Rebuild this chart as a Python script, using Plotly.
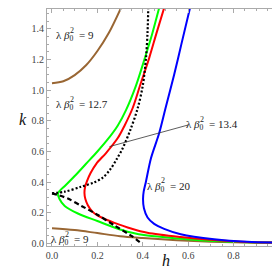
import plotly.graph_objects as go

# ---- data ----
# lambda*beta0^2 = 9 (brown), upper branch
brown_up_h = [0.0, 0.05, 0.10, 0.15, 0.20, 0.25, 0.304]
brown_up_k = [1.045, 1.058, 1.098, 1.162, 1.255, 1.372, 1.536]
# lambda*beta0^2 = 9 (brown), lower branch
brown_lo_h = [0.0, 0.10, 0.20, 0.30, 0.40, 0.50, 0.60, 0.70, 0.80, 0.90, 1.0]
brown_lo_k = [0.100, 0.088, 0.068, 0.048, 0.036, 0.026, 0.018, 0.012, 0.008, 0.006, 0.005]
# lambda*beta0^2 = 12.7 (green)
green_h = [0.472, 0.44, 0.407, 0.37, 0.326, 0.29, 0.246, 0.20, 0.15, 0.10, 0.06, 0.035, 0.026,
           0.033, 0.056, 0.114, 0.20, 0.275, 0.348, 0.42, 0.566, 0.714, 0.86, 1.0]
green_k = [1.536, 1.36, 1.20, 1.03, 0.87, 0.77, 0.68, 0.60, 0.52, 0.44, 0.38, 0.345, 0.327,
           0.29, 0.245, 0.196, 0.147, 0.105, 0.072, 0.052, 0.032, 0.016, 0.008, 0.006]
# lambda*beta0^2 = 13.4 (red)
red_h = [0.494, 0.46, 0.428, 0.39, 0.355, 0.32, 0.289, 0.238, 0.195, 0.17, 0.155, 0.146, 0.143,
         0.147, 0.158, 0.177, 0.20, 0.24, 0.275, 0.348, 0.42, 0.567, 0.714, 0.86, 1.0]
red_k = [1.536, 1.37, 1.209, 1.04, 0.882, 0.77, 0.686, 0.59, 0.52, 0.46, 0.41, 0.37, 0.33,
         0.29, 0.25, 0.21, 0.183, 0.155, 0.135, 0.098, 0.07, 0.042, 0.023, 0.010, 0.006]
# lambda*beta0^2 = 20 (blue)
blue_h = [0.608, 0.57, 0.538, 0.50, 0.472, 0.436, 0.414, 0.404, 0.401, 0.405, 0.421, 0.45,
          0.494, 0.567, 0.714, 0.86, 1.0]
blue_k = [1.536, 1.30, 1.10, 0.882, 0.719, 0.556, 0.405, 0.34, 0.29, 0.23, 0.17, 0.128,
          0.096, 0.061, 0.028, 0.011, 0.006]
# black dotted curve
dot_h = [0.0, 0.056, 0.128, 0.187, 0.224, 0.255, 0.285, 0.311, 0.345, 0.377, 0.40, 0.414, 0.421, 0.424]
dot_k = [0.327, 0.338, 0.37, 0.40, 0.43, 0.48, 0.55, 0.62, 0.74, 0.88, 1.03, 1.21, 1.38, 1.536]
# black dashed curve
dash_h = [0.0, 0.03, 0.07, 0.13, 0.20, 0.275, 0.35, 0.395]
dash_k = [0.327, 0.315, 0.293, 0.245, 0.188, 0.118, 0.05, 0.0]

# labels  (lambda * beta_0^2 = value)
lab_text = ["9", "12.7", "13.4", "20", "9"]
lab_h = [0.01, 0.01, 0.58, 0.41, -0.012]
lab_k = [1.353, 0.90, 0.77, 0.37, 0.022]
# pointer for the 13.4 label
ptr_h = [0.60, 0.253]
ptr_k = [0.773, 0.632]

BROWN = "#996633"
fig = go.Figure()

def add(h, k, color, dash="solid", width=2):
    fig.add_trace(go.Scatter(x=h, y=k, mode="lines",
                             line=dict(color=color, width=width, dash=dash,
                                       shape="spline", smoothing=0.9),
                             showlegend=False, hoverinfo="skip"))

add(brown_up_h, brown_up_k, BROWN)
add(brown_lo_h, brown_lo_k, BROWN)
add(green_h, green_k, "#00ff00")
add(red_h, red_k, "#ff0000")
add(blue_h, blue_k, "#0000ff")
add(dot_h, dot_k, "#000000", dash="2px,2px", width=2.2)
add(dash_h, dash_k, "#000000", dash="5px,3px", width=2.2)

fig.add_trace(go.Scatter(x=ptr_h, y=ptr_k, mode="lines",
                         line=dict(color="#333333", width=0.8),
                         showlegend=False, hoverinfo="skip"))

SERIF = "Liberation Serif"
for t, h, k in zip(lab_text, lab_h, lab_k):
    # main text with subscript 0
    fig.add_annotation(x=h, y=k, xref="x", yref="y", xanchor="left", yanchor="middle",
                       text="λ <i>β</i><sub>0</sub>  = " + t,
                       showarrow=False, font=dict(family=SERIF, size=11, color="#222222"))
    # superscript 2 stacked above the subscript
    fig.add_annotation(x=h, y=k, xref="x", yref="y", xanchor="left", yanchor="middle",
                       text="2", xshift=14, yshift=6,
                       showarrow=False, font=dict(family=SERIF, size=8, color="#222222"))

fig.add_annotation(x=0.5, y=-0.105, xref="paper", yref="paper", text="<i>h</i>",
                   showarrow=False, font=dict(family=SERIF, size=16, color="#111111"))
fig.add_annotation(x=-0.125, y=0.535, xref="paper", yref="paper", text="<i>k</i>",
                   showarrow=False, font=dict(family=SERIF, size=16, color="#111111"))

axis_common = dict(showline=True, linecolor="#aaaaaa", linewidth=1, mirror="allticks",
                   ticks="inside", ticklen=4, tickcolor="#aaaaaa", showgrid=False,
                   zeroline=False, tickformat=".1f", dtick=0.2, tick0=0,
                   tickfont=dict(family=SERIF, size=10, color="#444444"),
                   minor=dict(dtick=0.05, ticks="inside", ticklen=2, tickcolor="#aaaaaa",
                              showgrid=False))

fig.update_xaxes(range=[-0.022, 1.022], **axis_common)
fig.update_yaxes(range=[-0.016, 1.529], **axis_common)

fig.update_layout(width=280, height=277, margin=dict(l=39, r=4, t=1, b=39),
                  plot_bgcolor="white", paper_bgcolor="white")

fig.write_html("out.html")
